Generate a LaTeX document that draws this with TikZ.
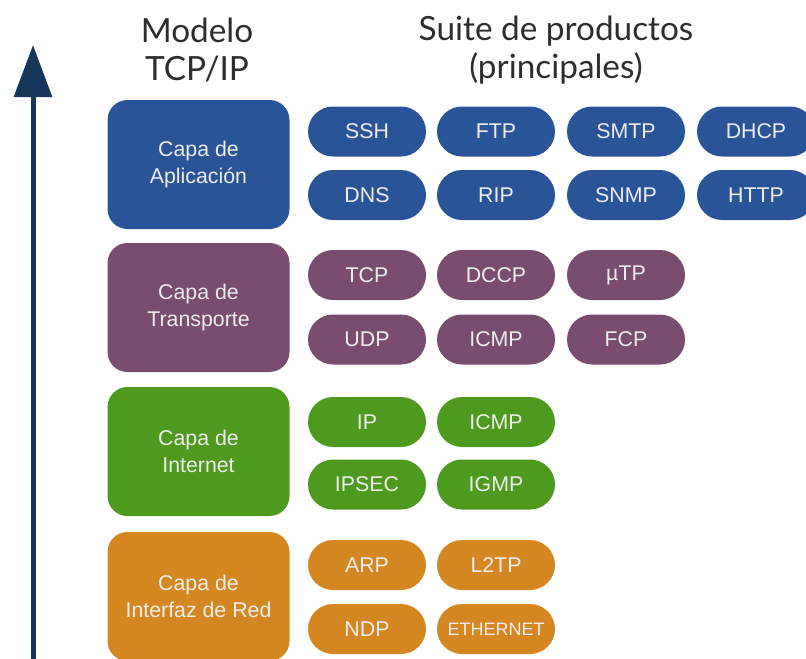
\documentclass[tikz,border=0pt]{standalone}
\usepackage{fontspec}
\setmainfont{Liberation Sans}
\newfontfamily\titlefont{Lato}
\usetikzlibrary{arrows.meta}

\definecolor{appblue}{RGB}{42,84,152}
\definecolor{transpurple}{RGB}{122,76,112}
\definecolor{inetgreen}{RGB}{78,154,30}
\definecolor{netorange}{RGB}{212,135,32}
\definecolor{arrownavy}{RGB}{22,55,90}
\definecolor{titlegray}{RGB}{45,45,45}

\begin{document}
\begin{tikzpicture}
                [x=0.75pt,y=-0.75pt,
                every node/.style={text=white!93!black,align=center},
                title/.style={text=titlegray,font=\titlefont\fontsize{25}{28.5}\selectfont},
                layer/.style={rounded corners=15pt,minimum width=136.5pt,minimum height=96.75pt,
                  font=\fontsize{16}{20.5}\selectfont},
                proto/.style={rounded corners=18.75pt,minimum width=88.5pt,minimum height=37.5pt,
                  inner sep=0pt,font=\fontsize{16}{18}\selectfont}]
                \useasboundingbox (0,0) rectangle (806,658);
                % flecha
                \coordinate (bottom) at (33,662);
                \coordinate (top) at (33,45);
                \draw[arrownavy,line width=3.75pt,-{Triangle[length=39pt,width=28pt]}] (bottom) -- (top);
                % titulos
                \node[title] (modelo) at (197,50) {Modelo\\TCP/IP};
                \node[title] (suite) at (556,50) {Suite de productos\\(principales)};
                % capas
                \node[layer,fill=appblue] (app) at (198.5,164.5) {Capa de\\Aplicación};
                \node[layer,fill=transpurple] (trans) at (198.5,307.5) {Capa de\\Transporte};
                \node[layer,fill=inetgreen] (inet) at (198.5,451.5) {Capa de\\Internet};
                \node[layer,fill=netorange] (net) at (198.5,596.5) {Capa de\\Interfaz de Red};
                % aplicacion
                \node[proto,fill=appblue] (ssh) at (367,131.5) {SSH};
                \node[proto,fill=appblue] (ftp) at (496,131.5) {FTP};
                \node[proto,fill=appblue] (smtp) at (626,131.5) {SMTP};
                \node[proto,fill=appblue] (dhcp) at (756,131.5) {DHCP};
                \node[proto,fill=appblue] (dns) at (367,195) {DNS};
                \node[proto,fill=appblue] (rip) at (496,195) {RIP};
                \node[proto,fill=appblue] (snmp) at (626,195) {SNMP};
                \node[proto,fill=appblue] (http) at (756,195) {HTTP};
                % transporte
                \node[proto,fill=transpurple] (tcp) at (367,275) {TCP};
                \node[proto,fill=transpurple] (dccp) at (496,275) {DCCP};
                \node[proto,fill=transpurple] (utp) at (626,275) {µTP};
                \node[proto,fill=transpurple] (udp) at (367,339.5) {UDP};
                \node[proto,fill=transpurple] (icmpt) at (496,339.5) {ICMP};
                \node[proto,fill=transpurple] (fcp) at (626,339.5) {FCP};
                % internet
                \node[proto,fill=inetgreen] (ip) at (367,422) {IP};
                \node[proto,fill=inetgreen] (icmpi) at (496,422) {ICMP};
                \node[proto,fill=inetgreen] (ipsec) at (367,484.5) {IPSEC};
                \node[proto,fill=inetgreen] (igmp) at (496,484.5) {IGMP};
                % interfaz de red
                \node[proto,fill=netorange] (arp) at (367,565) {ARP};
                \node[proto,fill=netorange] (l2tp) at (496,565) {L2TP};
                \node[proto,fill=netorange] (ndp) at (367,629) {NDP};
                \node[proto,fill=netorange,font=\fontsize{13.5}{15}\selectfont] (ether) at (496,629) {ETHERNET};
            \end{tikzpicture}
\end{document}
